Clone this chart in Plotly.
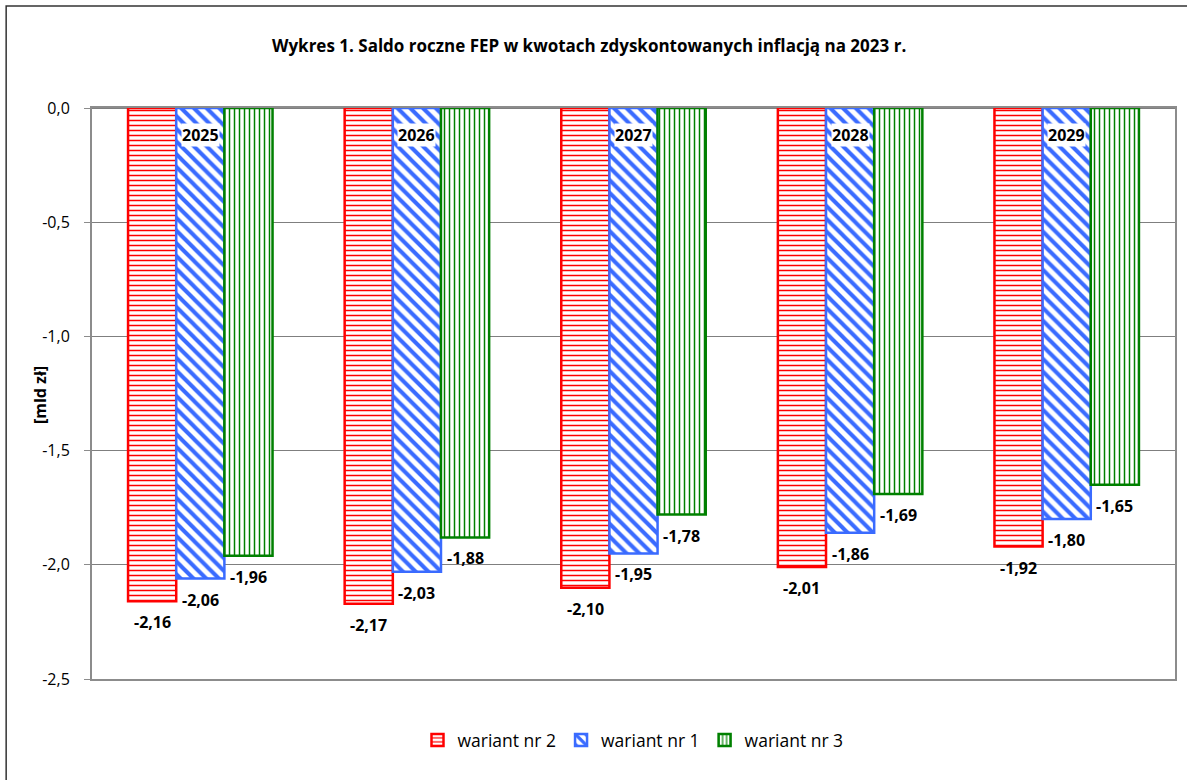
import plotly.graph_objects as go

years = ["2025", "2026", "2027", "2028", "2029"]
series_names = ["wariant nr 2", "wariant nr 1", "wariant nr 3"]
wariant2 = [-2.16, -2.17, -2.10, -2.01, -1.92]
wariant1 = [-2.06, -2.03, -1.95, -1.86, -1.80]
wariant3 = [-1.96, -1.88, -1.78, -1.69, -1.65]
y_ticks = [0.0, -0.5, -1.0, -1.5, -2.0, -2.5]

values = [wariant2, wariant1, wariant3]
colors = ["#ff0000", "#3a6bff", "#008000"]
shapes_pat = ["-", "\\", "|"]
sizes = [5, 9, 5]
solid = [0.3, 0.45, 0.3]

FONT = "Open Sans"
W, H = 1187, 780
ML, MR, MT, MB = 92, 10, 108, 101
pw = W - ML - MR
ph = H - MT - MB


def px_x(p):
    return (p - ML) / pw


def px_y(p):
    return (H - MB - p) / ph


def fmt(v):
    return f"{v:.1f}".replace(".", ",")


fig = go.Figure()
for name, vals, col, sh, sz, so in zip(series_names, values, colors, shapes_pat, sizes, solid):
    fig.add_trace(go.Bar(
        x=years, y=vals, name=name,
        marker=dict(color="white", line=dict(color=col, width=2.5),
                    pattern=dict(shape=sh, fgcolor=col, bgcolor="white", size=sz, solidity=so,
                                 fillmode="replace", fgopacity=1)),
    ))

annotations = []
n = len(series_names)
group_w = 1 - 0.333
bar_w = group_w / n
for i, vals in enumerate(values):
    off = -group_w / 2 + bar_w * (i + 0.5)
    for j, v in enumerate(vals):
        annotations.append(dict(
            x=j + off, y=v, xref="x", yref="y", text=f"{v:.2f}".replace(".", ","),
            showarrow=False, yshift=-21, font=dict(family=FONT, size=16, color="black", weight="bold"),
        ))
for j, yr in enumerate(years):
    annotations.append(dict(
        x=j, y=0, xref="x", yref="y", text=yr, showarrow=False, yshift=-27,
        bgcolor="white", borderpad=0,
        font=dict(family=FONT, size=16, color="black", weight="bold"),
    ))
annotations.append(dict(
    x=px_x(590), y=px_y(45), xref="paper", yref="paper",
    text="Wykres 1. Saldo roczne FEP w kwotach zdyskontowanych inflacją na 2023 r.",
    showarrow=False, xanchor="center", yanchor="middle",
    font=dict(family=FONT, size=17, color="black", weight="bold"),
))
annotations.append(dict(
    x=px_x(40), y=px_y(395), xref="paper", yref="paper", text="[mld zł]", textangle=-90,
    showarrow=False, xanchor="center", yanchor="middle",
    font=dict(family=FONT, size=16, color="black", weight="bold"),
))

fig.add_shape(type="rect", xref="paper", yref="paper",
              x0=px_x(6), x1=px_x(W + 5), y0=px_y(H + 5), y1=px_y(6),
              line=dict(color="#333333", width=1.5), layer="below")

fig.update_layout(
    width=W, height=H,
    margin=dict(l=ML, r=MR, t=MT, b=MB),
    paper_bgcolor="white", plot_bgcolor="white",
    barmode="group", bargap=0.333, bargroupgap=0,
    font=dict(family=FONT, size=16, color="black"),
    showlegend=True,
    legend=dict(orientation="h", x=px_x(634), xanchor="center", y=px_y(740), yanchor="middle",
                font=dict(family=FONT, size=17.5), traceorder="normal", itemwidth=30),
    annotations=annotations,
    xaxis=dict(showticklabels=False, showline=True, mirror=True, linecolor="#8c8c8c", linewidth=2,
               showgrid=False, ticks=""),
    yaxis=dict(range=[-2.5, 0], tickvals=y_ticks, ticktext=[fmt(t) for t in y_ticks], showgrid=True,
               gridcolor="#7f7f7f", gridwidth=1, showline=True, mirror=True, linecolor="#8c8c8c",
               linewidth=2, ticks="outside", ticklen=6, tickcolor="#8c8c8c", zeroline=True,
               zerolinecolor="#7f7f7f", zerolinewidth=2, ticklabelstandoff=11,
               tickfont=dict(family=FONT, size=16)),
)

fig.write_html("out.html", config={"displayModeBar": False},
               post_script="document.body.style.margin='0px';")
